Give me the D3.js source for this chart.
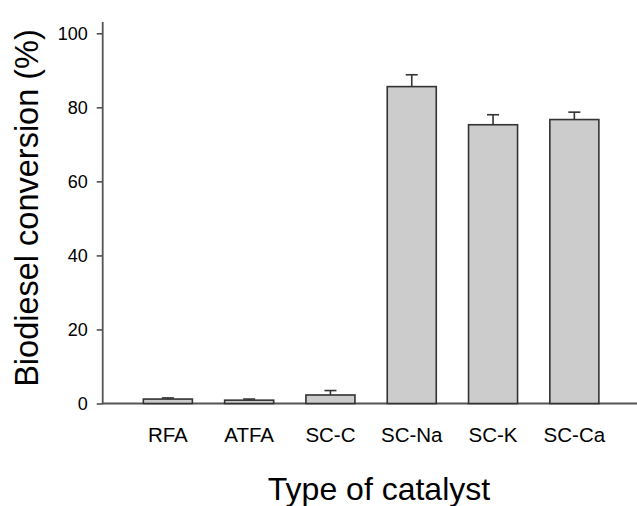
<!DOCTYPE html>
<html lang="en">
<head>
    <meta charset="UTF-8">
    <title>Biodiesel conversion by catalyst</title>
    <style>
        body { margin: 0; background: #fff; }
        text { font-family: Arial, "Liberation Sans", sans-serif; fill: #000; }
    </style>
</head>
<body>
    <script src="https://d3js.org/d3.v7.min.js"></script>
    <script>
        // data
        const catalysts = ['RFA', 'ATFA', 'SC-C', 'SC-Na', 'SC-K', 'SC-Ca'];
        const conversion = [1.2, 0.9, 2.3, 85.6, 75.3, 76.7];
        const errors = [0.3, 0.3, 1.2, 3.2, 2.7, 2.0];
        const yTicks = [0, 20, 40, 60, 80, 100];

        const width = 637,
            height = 506,
            axisX = 102.7,
            svg = d3.select('body').append('svg')
                .attr('width', width).attr('height', height);

        const y = d3.scaleLinear().domain([0, 100]).range([403.5, 33.3]);
        const x = d3.scaleBand()
            .domain(catalysts)
            .range([127.2, 615])
            .paddingInner(0.397)
            .paddingOuter(0.397 / 2);

        // y axis
        const yAxis = svg.append('g')
            .attr('transform', 'translate(' + axisX + ',0)')
            .call(d3.axisLeft(y).tickValues(yTicks).tickSize(6).tickPadding(9));
        yAxis.select('.domain').remove();
        yAxis.selectAll('.tick line').attr('stroke', '#444').attr('stroke-width', 1.5);
        yAxis.selectAll('.tick text').style('font-size', '18px').attr('fill', '#000');

        svg.append('line')
            .attr('x1', axisX).attr('x2', axisX)
            .attr('y1', 22).attr('y2', y(0) + 0.75)
            .attr('stroke', '#555').attr('stroke-width', 1.8);

        // x axis line
        svg.append('line')
            .attr('x1', axisX).attr('x2', width)
            .attr('y1', y(0)).attr('y2', y(0))
            .attr('stroke', '#555').attr('stroke-width', 1.8);

        // bars
        svg.append('g').selectAll('rect')
            .data(catalysts)
            .enter().append('rect')
            .attr('x', function(d) { return x(d); })
            .attr('y', function(d, i) { return y(conversion[i]); })
            .attr('width', x.bandwidth())
            .attr('height', function(d, i) { return y(0) - y(conversion[i]); })
            .attr('fill', '#cccccc')
            .attr('stroke', '#333')
            .attr('stroke-width', 1.6);

        // error bars (upper only)
        const err = svg.append('g').selectAll('g')
            .data(catalysts)
            .enter().append('g')
            .attr('stroke', '#333')
            .attr('stroke-width', 1.6);
        err.append('line')
            .attr('x1', function(d) { return x(d) + x.bandwidth() / 2; })
            .attr('x2', function(d) { return x(d) + x.bandwidth() / 2; })
            .attr('y1', function(d, i) { return y(conversion[i]); })
            .attr('y2', function(d, i) { return y(conversion[i] + errors[i]); });
        err.append('line')
            .attr('x1', function(d) { return x(d) + x.bandwidth() / 2 - 6; })
            .attr('x2', function(d) { return x(d) + x.bandwidth() / 2 + 6; })
            .attr('y1', function(d, i) { return y(conversion[i] + errors[i]); })
            .attr('y2', function(d, i) { return y(conversion[i] + errors[i]); });

        // category labels
        svg.append('g').selectAll('text')
            .data(catalysts)
            .enter().append('text')
            .attr('x', function(d) { return x(d) + x.bandwidth() / 2; })
            .attr('y', 441.5)
            .attr('text-anchor', 'middle')
            .style('font-size', '20.5px')
            .text(function(d) { return d; });

        // axis titles
        svg.append('text')
            .attr('x', 379)
            .attr('y', 500)
            .attr('text-anchor', 'middle')
            .style('font-size', '32px')
            .text('Type of catalyst');

        svg.append('text')
            .attr('transform', 'translate(37.5,' + 208 + ') rotate(-90)')
            .attr('text-anchor', 'middle')
            .style('font-size', '32.5px')
            .text('Biodiesel conversion (%)');
    </script>
</body>
</html>
